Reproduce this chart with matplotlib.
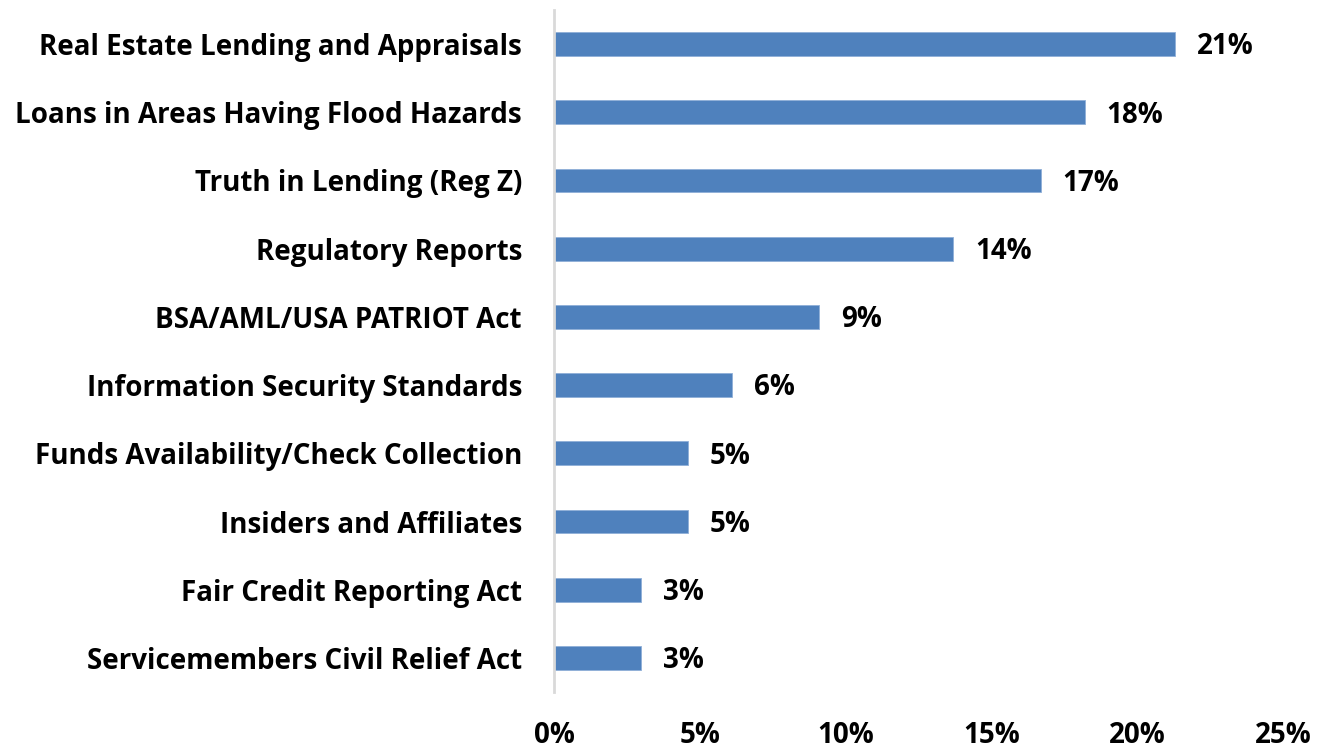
import matplotlib
matplotlib.use("Agg")
import matplotlib.pyplot as plt
from matplotlib.ticker import FuncFormatter

categories = [
    "Real Estate Lending and Appraisals",
    "Loans in Areas Having Flood Hazards",
    "Truth in Lending (Reg Z)",
    "Regulatory Reports",
    "BSA/AML/USA PATRIOT Act",
    "Information Security Standards",
    "Funds Availability/Check Collection",
    "Insiders and Affiliates",
    "Fair Credit Reporting Act",
    "Servicemembers Civil Relief Act",
]
shares = [21.3, 18.2, 16.7, 13.7, 9.1, 6.1, 4.6, 4.6, 3.0, 3.0]
x_ticks = [0, 5, 10, 15, 20, 25]

plt.rcParams["font.family"] = ["Open Sans", "DejaVu Sans"]
FS = 20

fig = plt.figure(figsize=(13.23, 7.5), dpi=100)
ax = fig.add_axes([0.4187, 0.0773, 0.551, 0.9094])

y = list(range(len(categories)))
ax.barh(y, shares, height=0.35, color="#4F81BD", edgecolor="#8FAFD8", linewidth=0.6)

for yi, v in zip(y, shares):
    ax.text(v + 0.75, yi + 0.04, f"{v:.0f}%", va="center", ha="left",
            fontsize=FS, fontweight="bold", color="black")

ax.set_ylim(len(categories) - 0.5, -0.5)
ax.set_xlim(0, 25)
ax.set_yticks(y)
ax.set_yticklabels(categories, fontsize=FS, fontweight="bold")
ax.set_xticks(x_ticks)
ax.xaxis.set_major_formatter(FuncFormatter(lambda v, p: f"{v:.0f}%"))
for lbl in ax.get_xticklabels():
    lbl.set_fontsize(FS)
    lbl.set_fontweight("bold")

ax.tick_params(axis="both", length=0)
ax.tick_params(axis="x", pad=21)
ax.tick_params(axis="y", pad=23)

for side in ("top", "right", "bottom"):
    ax.spines[side].set_visible(False)
ax.spines["left"].set_color("#D9D9D9")
ax.spines["left"].set_linewidth(2)

fig.savefig("out.png", dpi=100)
